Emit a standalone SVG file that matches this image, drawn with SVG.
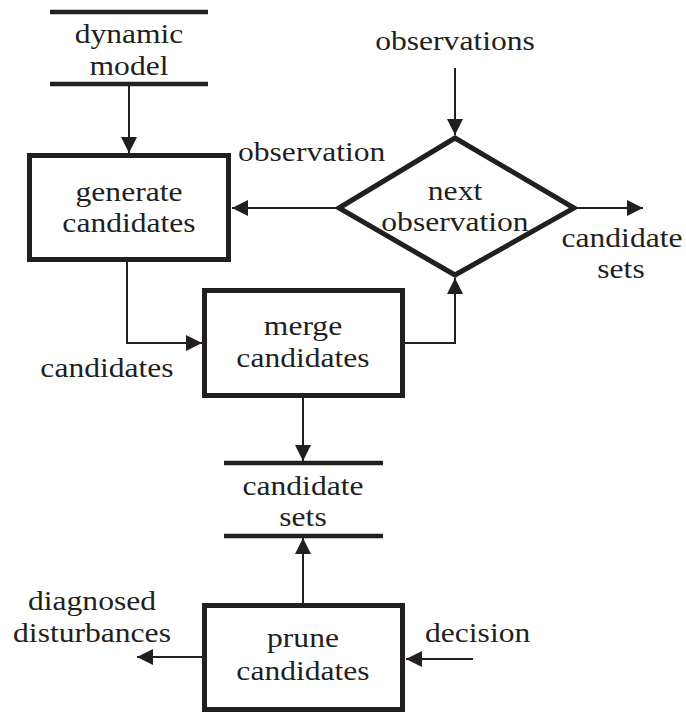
<svg xmlns="http://www.w3.org/2000/svg" width="686" height="713" viewBox="0 0 686 713">
  <style>
    .box { fill: none; stroke: #231f20; stroke-width: 5; }
    .store { stroke: #231f20; stroke-width: 4.5; }
    .flow { fill: none; stroke: #231f20; stroke-width: 2; }
    text { font-family: "Liberation Serif", "Times New Roman", serif; font-size: 27px; fill: #231f20; }
    .c { text-anchor: middle; }
  </style>
  <defs>
    <marker id="arrow" markerUnits="userSpaceOnUse" markerWidth="16" markerHeight="16" refX="16" refY="8" orient="auto">
      <path d="M0,0 L16,8 L0,16 Z" fill="#231f20"/>
    </marker>
  </defs>
  <rect width="686" height="713" fill="#ffffff"/>

  <!-- data store: dynamic model -->
  <g id="dynamic-model">
    <line class="store" x1="50" y1="12" x2="208" y2="12"/>
    <line class="store" x1="50" y1="84" x2="208" y2="84"/>
    <text class="c" transform="translate(129,43) scale(1.17,1)">dynamic</text>
    <text class="c" transform="translate(129,75) scale(1.17,1)">model</text>
  </g>

  <!-- process: generate candidates -->
  <g id="generate-candidates">
    <rect class="box" x="29.5" y="155.5" width="199" height="104"/>
    <text class="c" transform="translate(129,201) scale(1.17,1)">generate</text>
    <text class="c" transform="translate(129,232) scale(1.17,1)">candidates</text>
  </g>

  <!-- decision: next observation -->
  <g id="next-observation">
    <polygon class="box" points="339,208 455,138 574,208 455,275"/>
    <text class="c" transform="translate(455,200) scale(1.17,1)">next</text>
    <text class="c" transform="translate(455,231) scale(1.17,1)">observation</text>
  </g>

  <!-- process: merge candidates -->
  <g id="merge-candidates">
    <rect class="box" x="204.5" y="290.5" width="198" height="105"/>
    <text class="c" transform="translate(303,335) scale(1.17,1)">merge</text>
    <text class="c" transform="translate(303,367) scale(1.17,1)">candidates</text>
  </g>

  <!-- data store: candidate sets -->
  <g id="candidate-sets">
    <line class="store" x1="224" y1="463" x2="383" y2="463"/>
    <line class="store" x1="224" y1="536" x2="383" y2="536"/>
    <text class="c" transform="translate(303,495) scale(1.17,1)">candidate</text>
    <text class="c" transform="translate(303,526) scale(1.17,1)">sets</text>
  </g>

  <!-- process: prune candidates -->
  <g id="prune-candidates">
    <rect class="box" x="204.5" y="605.5" width="198" height="104"/>
    <text class="c" transform="translate(303,647) scale(1.17,1)">prune</text>
    <text class="c" transform="translate(303,680) scale(1.17,1)">candidates</text>
  </g>

  <!-- connectors -->
  <g id="connectors">
    <line class="flow" x1="129" y1="86" x2="129" y2="153" marker-end="url(#arrow)"/>
    <line class="flow" x1="455" y1="68" x2="455" y2="135" marker-end="url(#arrow)"/>
    <line class="flow" x1="336" y1="208" x2="232" y2="208" marker-end="url(#arrow)"/>
    <line class="flow" x1="577" y1="208" x2="643" y2="208" marker-end="url(#arrow)"/>
    <path class="flow" d="M127,262 V343 H202" marker-end="url(#arrow)"/>
    <path class="flow" d="M405,343 H455 V278" marker-end="url(#arrow)"/>
    <line class="flow" x1="303" y1="398" x2="303" y2="461" marker-end="url(#arrow)"/>
    <line class="flow" x1="303" y1="603" x2="303" y2="538" marker-end="url(#arrow)"/>
    <line class="flow" x1="202" y1="657" x2="137" y2="657" marker-end="url(#arrow)"/>
    <line class="flow" x1="473" y1="659" x2="406" y2="659" marker-end="url(#arrow)"/>
  </g>

  <!-- connector labels -->
  <g id="labels">
    <text class="c" transform="translate(455,50) scale(1.17,1)">observations</text>
    <text transform="translate(238,161) scale(1.17,1)">observation</text>
    <text class="c" transform="translate(622,247) scale(1.17,1)">candidate</text>
    <text class="c" transform="translate(621,278) scale(1.17,1)">sets</text>
    <text class="c" transform="translate(107,377) scale(1.17,1)">candidates</text>
    <text class="c" transform="translate(92,610) scale(1.17,1)">diagnosed</text>
    <text class="c" transform="translate(92,642) scale(1.17,1)">disturbances</text>
    <text transform="translate(425,642) scale(1.17,1)">decision</text>
  </g>
</svg>
